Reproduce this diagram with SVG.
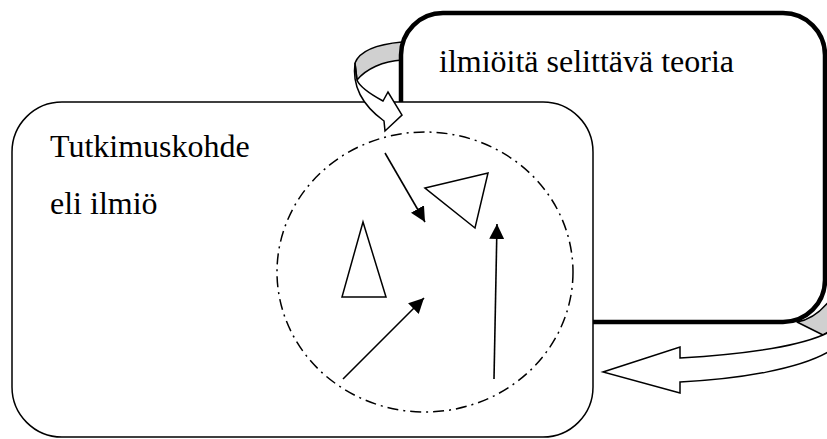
<svg xmlns="http://www.w3.org/2000/svg" width="827" height="439" viewBox="0 0 827 439">
<style>
.lbl{font-family:"Liberation Serif","Times New Roman",serif;font-size:32px;fill:#000}
.thin{fill:#fff;stroke:#000;stroke-width:1.5}
.grey{fill:#d0d0d0;stroke:#000;stroke-width:1.5;stroke-linejoin:round}
.band{fill:#fff;stroke:#000;stroke-width:1.5;stroke-linejoin:miter}
.conn{stroke:#000;stroke-width:1.6;fill:none}
</style>
<defs>
<marker id="ah" viewBox="0 0 15 15" refX="15" refY="7.5" markerWidth="15" markerHeight="15" markerUnits="userSpaceOnUse" orient="auto">
<path d="M0,0 L15,7.5 L0,15 Z" fill="#000"/>
</marker>
</defs>
<rect width="827" height="439" fill="#fff"/>
<g id="arrow-return">
<path class="grey" d="M797,322 L823,335 L830,331 L830,300 Q815,319 797,322 Z"/>
<path class="band" d="M830,332 L823,335 C790,349 730,355 680,358 L680,347 L603,372 L680,393 L680,382 C740,379 800,369 830,351 Z"/>
</g>
<g id="arrow-apply-back">
<path class="grey" d="M402,42 C380,44 360,50 355,63 L357,80 C366,69 383,61 402,60 Z"/>
</g>
<g id="theory">
<rect x="401" y="13" width="424" height="309" rx="42" ry="42" fill="#fff" stroke="#000" stroke-width="4.5"/>
<text class="lbl" x="439" y="72">ilmiöitä selittävä teoria</text>
</g>
<g id="object">
<rect class="thin" x="12" y="102" width="581" height="335" rx="50" ry="50"/>
<text class="lbl" x="50" y="157">Tutkimuskohde</text>
<text class="lbl" x="50" y="214">eli ilmiö</text>
</g>
<g id="arrow-apply">
<path class="band" d="M355,63 C352,85 362,105 384,121 L385,131 L402,115 L388,92 L383,101 C372,95 360,88 357,80 Z"/>
</g>
<g id="phenomenon">
<ellipse cx="425" cy="272" rx="148" ry="140" fill="none" stroke="#000" stroke-width="1.5" stroke-dasharray="11 5 2 5"/>
</g>
<g id="triangle-1">
<polygon class="thin" points="363,222 342,297 386,297"/>
</g>
<g id="triangle-2">
<polygon class="thin" points="425,188 488,173 475,228"/>
</g>
<g id="connectors">
<line class="conn" x1="385" y1="153" x2="425" y2="222" marker-end="url(#ah)"/>
<line class="conn" x1="343" y1="379" x2="424" y2="298" marker-end="url(#ah)"/>
<line class="conn" x1="494" y1="379" x2="497" y2="224" marker-end="url(#ah)"/>
</g>
</svg>
